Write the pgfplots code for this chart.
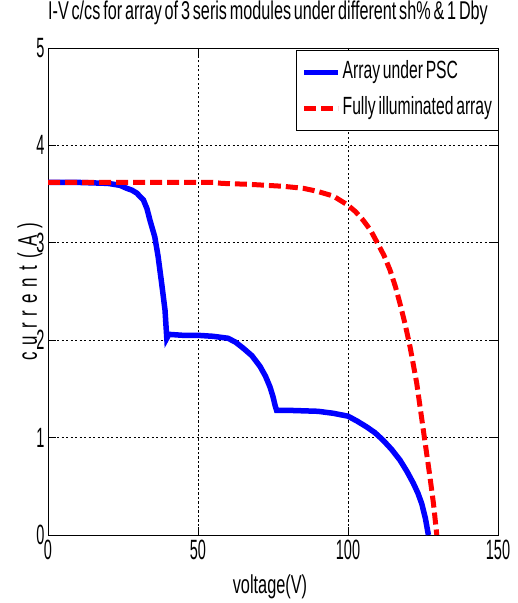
\documentclass[border=0pt]{standalone}
\usepackage{fontspec}
\setmainfont{Liberation Sans}[FakeStretch=0.63, WordSpace=0.63]
\newfontfamily\tickfont{Liberation Sans}[FakeStretch=0.52]
\newfontfamily\ylabfont{Liberation Sans}[FakeStretch=0.63, LetterSpace=26]
\usepackage{pgfplots}
\pgfplotsset{compat=1.18}
\begin{document}
\begin{tikzpicture}
\begin{axis}[
  name=ax,
  scale only axis,
  width=450bp, height=487bp,
  xmin=0, xmax=150, ymin=0, ymax=5,
  xtick={0,50,100,150}, ytick={0,1,2,3,4,5},
  tick align=inside,
  major tick length=8bp,
  axis line style={black, line width=0.9bp},
  every tick/.style={black, line width=0.9bp},
  grid=major,
  major grid style={black, line width=0.6bp, dash pattern=on 2.2bp off 2.3bp},
  /pgf/number format/assume math mode=true,
  ticklabel style={font=\tickfont\fontsize{28}{30}\selectfont},
  xticklabel style={anchor=north, yshift=-2bp},
  yticklabel style={anchor=east, xshift=0bp},
  title={I-V c/cs for array of 3 seris modules under different sh\% \& 1 Dby},
  title style={font=\fontsize{25.8}{28}\selectfont, at={(axis description cs:0.5,1)}, anchor=base, yshift=23bp, xshift=-5bp},
  xlabel={voltage(V)},
  xlabel style={font=\fontsize{26}{28}\selectfont, at={(axis description cs:0.5,0)}, anchor=base, yshift=-58bp, xshift=-3bp},
  ylabel={current(A)},
  ylabel style={font=\ylabfont\fontsize{27}{29}\selectfont, at={(axis description cs:-0.04,0.5)}, anchor=center},
  legend style={at={(axis description cs:1,1)}, anchor=north east, xshift=1bp, yshift=-2bp,
    draw=black, line width=0.9bp,
    font=\fontsize{25}{28}\selectfont, row sep=0bp, inner xsep=5bp, inner ysep=4bp,
    nodes={text height=19bp, text depth=6bp, inner xsep=1.5bp, inner ysep=5.5bp}},
  legend cell align=left,
  legend image code/.code={\draw[#1] (0bp,0bp) -- (34bp,0bp);},
]
\addplot[blue, line width=5.5bp] coordinates {
(0,3.62) (10,3.62) (20,3.61) (24,3.59) (26.2,3.56) (28,3.54) (29.6,3.51) (31.8,3.44)
(33,3.35) (34,3.23) (35.6,3.06) (36.7,2.86) (37.9,2.58) (39,2.31) (39.6,2.02) (40.3,2.06)
(45,2.05) (50,2.05) (55,2.04) (60,2.02) (62.5,1.98) (65,1.92) (68,1.84) (70.7,1.73)
(72.5,1.63) (74,1.52) (75,1.42) (75.7,1.33) (76.2,1.28) (80,1.28) (85,1.275) (90,1.27)
(95,1.25) (100,1.22) (103,1.17) (106.2,1.11) (109,1.05) (111.8,0.97) (114.5,0.88)
(117.3,0.77) (119.7,0.65) (121.8,0.53) (123.3,0.43) (124.6,0.32) (125.8,0.17) (126.8,0.0)
};
\addlegendentry{Array under PSC}
\addplot[red, line width=5bp, dash pattern=on 12bp off 5bp] coordinates {
(0,3.62) (55,3.62) (58,3.61) (67.3,3.60) (78.4,3.58) (85,3.56) (89.6,3.53) (95.1,3.48)
(99.8,3.39) (102.5,3.32) (105.1,3.23) (107.5,3.13) (109.6,3.01) (112,2.87) (114,2.72)
(115.8,2.55) (117.3,2.38) (119,2.17) (120.7,1.93) (122.9,1.56) (125.1,1.08) (127.3,0.6)
(128.5,0.32) (129.6,0.0)
};
\addlegendentry{Fully illuminated array}
\end{axis}
\pgfresetboundingbox
\path ([xshift=-48bp,yshift=-68bp]ax.south west) rectangle ([xshift=20bp,yshift=48bp]ax.north east);
\end{tikzpicture}
\end{document}
